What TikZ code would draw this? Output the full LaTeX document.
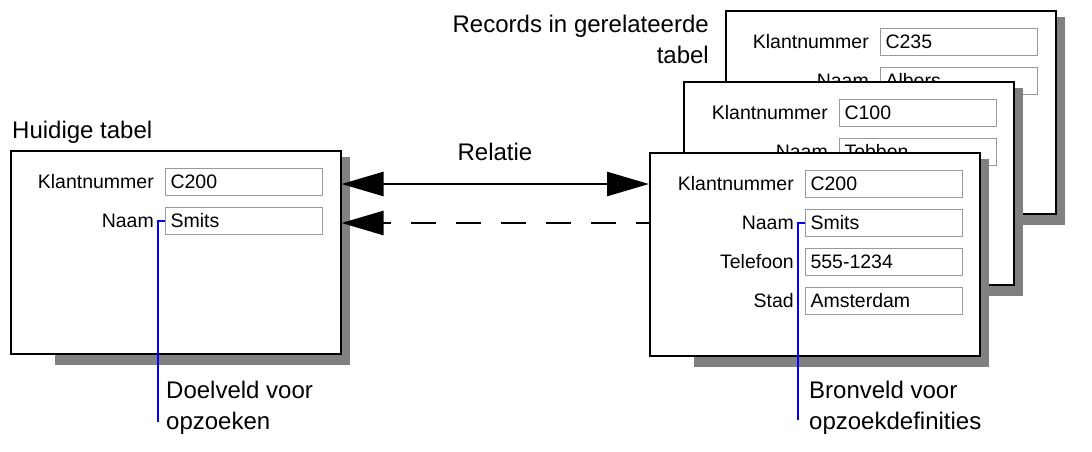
\documentclass[tikz,border=0pt]{standalone}
\usepackage{fontspec}
\setmainfont{Liberation Sans}
\usetikzlibrary{positioning,arrows.meta}

\begin{document}
\begin{tikzpicture}[x=1pt,y=-1pt,
    tabel/.style ={draw, line width=1.5pt, fill=white, minimum width=330pt, minimum height=203pt, inner sep=0pt, anchor=north west},
    schaduw/.style ={fill=black!50, inner sep=0pt, minimum width=295pt, minimum height=208pt, anchor=north west},
    veld/.style ={draw=black!40, line width=1pt, fill=white, minimum width=157pt, minimum height=27pt, text width=147pt, inner xsep=5pt, inner ysep=0pt, anchor=north west, font=\fontsize{19.5}{23}\selectfont},
    etiket/.style ={inner sep=0pt, font=\fontsize{19.5}{23}\selectfont},
    kop/.style ={inner sep=0pt, font=\fontsize{24}{31}\selectfont},
    blauw/.style ={blue, line width=1.2pt},
    >={Triangle[length=42pt,width=24pt]}]
   \useasboundingbox (0,0) rectangle (1092,451);

   % achterste record
   \node[schaduw] (aschaduw) at (770,17) {};
   \node[tabel] (abox) at (725,10) {};
   \node[veld] (av1) at (880,28) {C235};
   \node[veld] (av2) at (880,67) {Albers};
   \node[etiket, left=11pt of av1.base west, anchor=base east] (ak1) {Klantnummer};
   \node[etiket, left=11pt of av2.base west, anchor=base east] (ak2) {Naam};

   % middelste record
   \node[schaduw] (mschaduw) at (728,88) {};
   \node[tabel] (mbox) at (683,81) {};
   \node[veld] (mv1) at (839,99) {C100};
   \node[veld] (mv2) at (839,138) {Tebben};
   \node[etiket, left=11pt of mv1.base west, anchor=base east] (mk1) {Klantnummer};
   \node[etiket, left=11pt of mv2.base west, anchor=base east] (mk2) {Naam};

   % voorste record
   \node[schaduw] (fschaduw) at (694,159) {};
   \node[tabel] (fbox) at (649,152) {};
   \node[veld] (fv1) at (805,170) {C200};
   \node[veld] (fv2) at (805,209) {Smits};
   \node[veld] (fv3) at (805,248) {555-1234};
   \node[veld] (fv4) at (805,287) {Amsterdam};
   \node[etiket, left=11pt of fv1.base west, anchor=base east] (fk1) {Klantnummer};
   \node[etiket, left=11pt of fv2.base west, anchor=base east] (fk2) {Naam};
   \node[etiket, left=11pt of fv3.base west, anchor=base east] (fk3) {Telefoon};
   \node[etiket, left=11pt of fv4.base west, anchor=base east] (fk4) {Stad};

   % huidige tabel
   \node[schaduw] (lschaduw) at (55,157) {};
   \node[tabel] (lbox) at (10,150) {};
   \node[veld] (lv1) at (165,168) {C200};
   \node[veld] (lv2) at (165,207) {Smits};
   \node[etiket, left=11pt of lv1.base west, anchor=base east] (lk1) {Klantnummer};
   \node[etiket, left=11pt of lv2.base west, anchor=base east] (lk2) {Naam};

   % teksten
   \node[kop, anchor=base west] (huidig) at (12,138) {Huidige tabel};
   \node[kop, anchor=north east, align=right] (records) at (709,14.5) {Records in gerelateerde\\tabel};
   \node[kop, anchor=base] (relatie) at (495,160) {Relatie};
   \node[kop, anchor=north west, align=left] (doel) at (166,381) {Doelveld voor\\opzoeken};
   \node[kop, anchor=north west, align=left] (bron) at (809,381) {Bronveld voor\\opzoekdefinities};

   \draw[line width=2.5pt, <->] (lbox.east |- fv1) -- (fbox.west |- fv1);
   \draw[line width=2.5pt, ->, dash pattern=on 25pt off 20pt, dash phase=12pt] (fbox.west |- fv2) -- (lbox.east |- fv2);

   \coordinate (doeleind) at (158,422);
   \coordinate (broneind) at (798,420);
   \draw[blauw] (lv2.west) -| (doeleind);
   \draw[blauw] (fv2.west) -| (broneind);
 \end{tikzpicture}
\end{document}
